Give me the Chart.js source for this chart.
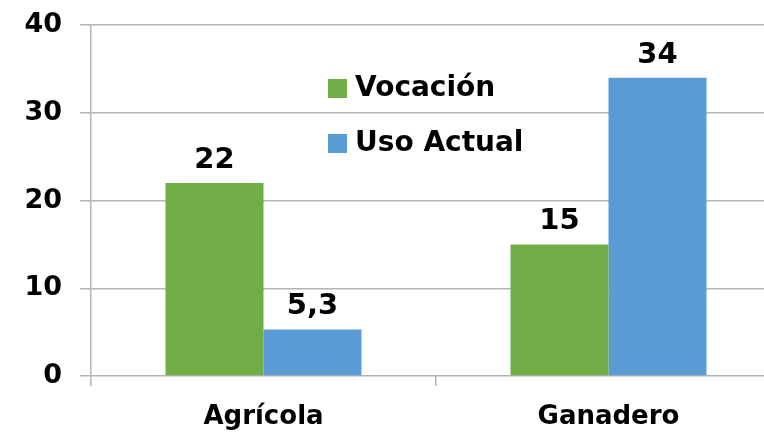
<!DOCTYPE html>
<html>
<head>
<meta charset="utf-8">
<script src="https://cdn.jsdelivr.net/npm/chart.js@4/dist/chart.umd.min.js"></script>
<style>
  html, body { margin: 0; padding: 0; background: #fff; overflow: hidden; }
  #wrap { position: relative; width: 782px; height: 434px; }
</style>
</head>
<body>
<div id="wrap"><canvas id="chart"></canvas></div>
<script>
const categories = ["Agrícola", "Ganadero"];
const seriesNames = ["Vocación", "Uso Actual"];
const vocacion = [22, 15];
const usoActual = [5.3, 34];
const yTicks = [0, 10, 20, 30, 40];

const COLORS = ["#70AD47", "#5B9BD5"];
const FONT = "'DejaVu Sans', sans-serif";
const GRID = "#b4b4b4";

const formatValue = (v) => String(v).replace(".", ",");

// value labels above each bar
const barLabels = {
  id: "barLabels",
  afterDatasetsDraw(chart) {
    const ctx = chart.ctx;
    ctx.save();
    ctx.fillStyle = "#000";
    ctx.font = "bold 29px " + FONT;
    ctx.textAlign = "center";
    ctx.textBaseline = "alphabetic";
    chart.data.datasets.forEach((ds, i) => {
      chart.getDatasetMeta(i).data.forEach((bar, j) => {
        ctx.fillText(formatValue(ds.data[j]), bar.x, bar.y - 15);
      });
    });
    ctx.restore();
  },
};

// legend drawn inside the plot area, stacked vertically
const innerLegend = {
  id: "innerLegend",
  afterDraw(chart) {
    const ctx = chart.ctx;
    ctx.save();
    ctx.font = "bold 28px " + FONT;
    ctx.textBaseline = "middle";
    ctx.textAlign = "left";
    chart.data.datasets.forEach((ds, i) => {
      const cy = 88 + i * 55;
      ctx.fillStyle = ds.backgroundColor;
      ctx.fillRect(328, cy - 9, 19, 19);
      ctx.fillStyle = "#000";
      ctx.fillText(ds.label, 355, cy + 1);
    });
    ctx.restore();
  },
};

new Chart(document.getElementById("chart").getContext("2d"), {
  type: "bar",
  data: {
    labels: categories,
    datasets: [
      { label: seriesNames[0], data: vocacion, backgroundColor: COLORS[0] },
      { label: seriesNames[1], data: usoActual, backgroundColor: COLORS[1] },
    ].map((d) => ({ ...d, borderWidth: 0, categoryPercentage: 0.568, barPercentage: 1 })),
  },
  options: {
    responsive: true,
    maintainAspectRatio: false,
    animation: false,
    events: [],
    layout: { padding: { top: 25, right: 1, bottom: 0, left: 0 } },
    plugins: { legend: { display: false }, tooltip: { enabled: false } },
    scales: {
      x: {
        grid: { drawOnChartArea: false, drawTicks: true, tickLength: 10, color: GRID, lineWidth: 1.5 },
        border: { display: false },
        ticks: { color: "#000", font: { family: FONT, size: 26, weight: "bold" }, padding: 16 },
        afterFit: (scale) => { scale.height = 58; },
      },
      y: {
        min: 0,
        max: 40,
        afterBuildTicks: (scale) => { scale.ticks = yTicks.map((v) => ({ value: v })); },
        grid: { color: GRID, lineWidth: 1.5, tickLength: 11 },
        border: { display: true, color: GRID, width: 1.5 },
        ticks: { color: "#000", font: { family: FONT, size: 27, weight: "bold" }, padding: 18 },
        afterFit: (scale) => {
          scale.width = 91;
          scale.paddingTop = 0;
          scale.paddingBottom = 0;
        },
      },
    },
  },
  plugins: [barLabels, innerLegend],
});
</script>
</body>
</html>
